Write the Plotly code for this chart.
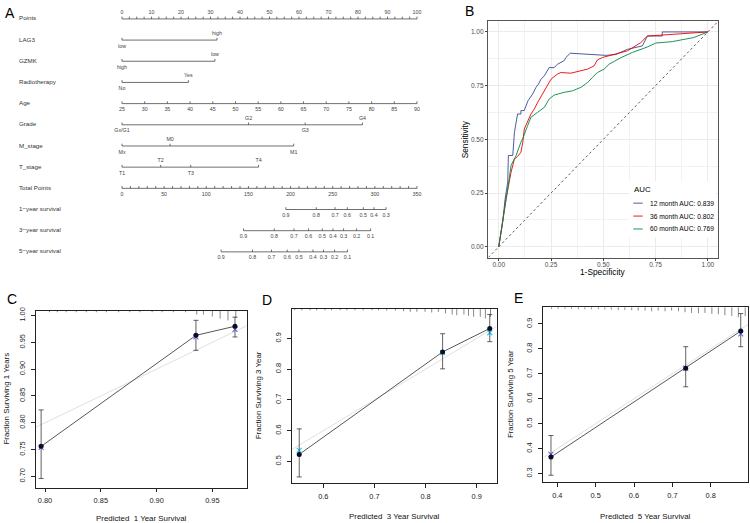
import plotly.graph_objects as go

W, H = 750, 523
FONT = "Liberation Sans, Arial, Helvetica, sans-serif"

# ================= DATA =================
# ---- Panel A : nomogram ----
row_names = ["Points", "LAG3", "GZMK", "Radiotherapy", "Age", "Grade", "M_stage",
             "T_stage", "Total Points", "1\u2212year survival", "3\u2212year survival",
             "5\u2212year survival"]
points_ticks = [0, 10, 20, 30, 40, 50, 60, 70, 80, 90, 100]
lag3_levels = ["low", "high"]
lag3_points = [0, 32.2]
gzmk_levels = ["high", "low"]
gzmk_points = [0, 31.5]
radio_levels = ["No", "Yes"]
radio_points = [0, 22.5]
age_ticks = [25, 30, 35, 40, 45, 50, 55, 60, 65, 70, 75, 80, 85, 90]
grade_levels = ["Gx/G1", "G2", "G3", "G4"]
grade_points = [0, 42.9, 62.1, 81.5]
m_levels = ["Mx", "M0", "M1"]
m_points = [0, 16.3, 58.2]
t_levels = ["T1", "T2", "T3", "T4"]
t_points = [0, 13.1, 23.3, 46.3]
total_ticks = [0, 50, 100, 150, 200, 250, 300, 350]
total_max = 350
surv1_probs = [0.9, 0.8, 0.7, 0.6, 0.5, 0.4, 0.3]
surv1_total = [194.4, 230.5, 252.8, 267.3, 286.3, 299.0, 313.3]
surv3_probs = [0.9, 0.8, 0.7, 0.6, 0.5, 0.4, 0.3, 0.2, 0.1]
surv3_total = [144.1, 180.6, 204.0, 221.3, 237.6, 250.3, 262.9, 278.3, 295.0]
surv5_probs = [0.9, 0.8, 0.7, 0.6, 0.5, 0.4, 0.3, 0.2, 0.1]
surv5_total = [117.6, 154.8, 177.4, 196.0, 209.9, 226.5, 239.1, 252.2, 267.6]

# ---- Panel B : time-dependent ROC ----
roc_months = [12, 36, 60]
roc_auc = [0.839, 0.802, 0.769]
fpr_12 = [0, 0.008, 0.019, 0.030, 0.043, 0.046, 0.067, 0.075, 0.090, 0.106, 0.106, 0.122,
          0.140, 0.162, 0.178, 0.190, 0.202, 0.218, 0.241, 0.265, 0.281, 0.313, 0.321,
          0.342, 0.512, 0.560, 0.615, 0.687, 0.711, 0.782, 0.782, 0.900, 1.0]
sens_12 = [0, 0.05, 0.116, 0.22, 0.301, 0.425, 0.425, 0.533, 0.618, 0.618, 0.634, 0.634,
           0.680, 0.711, 0.742, 0.757, 0.780, 0.796, 0.834, 0.834, 0.850, 0.866, 0.881,
           0.901, 0.891, 0.895, 0.919, 0.935, 0.981, 0.981, 1.0, 1.0, 1.0]
fpr_36 = [0, 0.011, 0.025, 0.035, 0.059, 0.075, 0.090, 0.106, 0.115, 0.122, 0.154, 0.170,
          0.186, 0.210, 0.226, 0.250, 0.281, 0.297, 0.345, 0.377, 0.425, 0.456, 0.472,
          0.496, 0.536, 0.615, 0.679, 0.711, 0.774, 0.902, 1.0]
sens_36 = [0, 0.07, 0.14, 0.224, 0.348, 0.409, 0.420, 0.440, 0.487, 0.548, 0.618, 0.641,
           0.672, 0.711, 0.742, 0.780, 0.804, 0.811, 0.808, 0.815, 0.827, 0.842, 0.870,
           0.881, 0.891, 0.912, 0.950, 0.981, 0.985, 0.993, 1.0]
fpr_60 = [0, 0.010, 0.025, 0.040, 0.059, 0.083, 0.106, 0.114, 0.138, 0.154, 0.186, 0.218,
          0.241, 0.265, 0.313, 0.353, 0.393, 0.425, 0.448, 0.472, 0.504, 0.528, 0.584,
          0.640, 0.711, 0.750, 0.830, 0.933, 1.0]
sens_60 = [0, 0.06, 0.15, 0.25, 0.379, 0.425, 0.487, 0.502, 0.564, 0.603, 0.626, 0.649,
           0.688, 0.706, 0.719, 0.726, 0.742, 0.765, 0.788, 0.811, 0.827, 0.850, 0.880,
           0.905, 0.930, 0.948, 0.955, 0.974, 1.0]
roc_ticks = [0, 0.25, 0.5, 0.75, 1.0]

# ---- Panels C, D, E : calibration ----
c_pred = [0.7965, 0.9353, 0.9703]
c_obs = [0.756, 0.963, 0.980]
c_lo = [0.696, 0.935, 0.960]
c_hi = [0.824, 0.991, 0.997]
c_corr = [0.754, 0.960, 0.974]
c_rug_x = [0.804, 0.811, 0.819, 0.828, 0.837, 0.846, 0.855, 0.866, 0.876, 0.885, 0.896,
           0.905, 0.915, 0.926, 0.936, 0.942, 0.950, 0.957, 0.964, 0.971]
c_rug_f = [0.17] * 14 + [0.4, 0.4, 0.6, 0.8, 1.0, 0.75]
c_xticks = [0.80, 0.85, 0.90, 0.95]
c_yticks = [0.70, 0.75, 0.80, 0.85, 0.90, 0.95, 1.00]

d_pred = [0.5529, 0.8333, 0.9255]
d_obs = [0.5226, 0.8558, 0.9323]
d_lo = [0.4493, 0.8008, 0.8892]
d_hi = [0.6057, 0.9151, 0.9776]
d_corr = [0.5356, 0.8536, 0.9183]
d_rug_x = [0.544, 0.558, 0.574, 0.587, 0.603, 0.616, 0.633, 0.646, 0.662, 0.678, 0.695,
           0.708, 0.724, 0.741, 0.757, 0.770, 0.783, 0.799, 0.812, 0.825, 0.839, 0.852,
           0.861, 0.875, 0.884, 0.894, 0.907, 0.917, 0.927]
d_rug_f = [0.17] * 12 + [0.2, 0.2, 0.27, 0.33, 0.33, 0.33, 0.4, 0.33, 0.5, 0.6, 0.67,
                         0.6, 0.73, 0.83, 0.83, 1.0, 0.83]
d_xticks = [0.6, 0.7, 0.8, 0.9]
d_yticks = [0.5, 0.6, 0.7, 0.8, 0.9]

e_pred = [0.3835, 0.7348, 0.8783]
e_obs = [0.3663, 0.7221, 0.8708]
e_lo = [0.2933, 0.6478, 0.8084]
e_hi = [0.4526, 0.8084, 0.9412]
e_corr = [0.3770, 0.7221, 0.8602]
e_rug_x = [0.385, 0.402, 0.420, 0.437, 0.455, 0.472, 0.489, 0.507, 0.524, 0.541, 0.559,
           0.576, 0.594, 0.611, 0.629, 0.646, 0.663, 0.681, 0.698, 0.716, 0.733, 0.750,
           0.768, 0.785, 0.803, 0.820, 0.837, 0.855, 0.872, 0.890]
e_rug_f = [0.17, 0.17, 0.17, 0.17, 0.2, 0.2, 0.2, 0.2, 0.23, 0.23, 0.27, 0.27, 0.3, 0.33,
           0.33, 0.4, 0.33, 0.4, 0.33, 0.4, 0.5, 0.57, 0.6, 0.57, 0.67, 0.7, 0.8, 0.87,
           1.0, 0.9]
e_xticks = [0.4, 0.5, 0.6, 0.7, 0.8]
e_yticks = [0.3, 0.4, 0.5, 0.6, 0.7, 0.8, 0.9]

# ================= FIGURE =================
fig = go.Figure()


def fx(p):
    return p / W


def fy(p):
    return 1 - p / H


# ---------- Panel A ----------
A_X0, A_X100 = 122.0, 417.0
A_PPP = (A_X100 - A_X0) / 100.0
A_ROW0, A_STEP = 16.0, 21.3
A_RIGHT, A_BOT = 420.0, 270.0
TK = 2.3 / A_STEP
OFF = 6.3 / A_STEP

segx, segy = [], []
lx, ly, lt = [], [], []


def seg(x0, y0, x1, y1):
    segx.extend([x0, x1, None])
    segy.extend([y0, y1, None])


def lab(x, y, t):
    lx.append(x)
    ly.append(y)
    lt.append(t)


def fmt(v):
    return ("%g" % v)


# Points axis (row 0)
seg(0, 0, 100, 0)
k = 0
while k <= 40:
    seg(k * 2.5, 0, k * 2.5, -TK)
    k += 1
for v in points_ticks:
    lab(v, -OFF, fmt(v))

# categorical rows
for r, pts, levs in [(1, lag3_points, lag3_levels), (2, gzmk_points, gzmk_levels),
                     (3, radio_points, radio_levels), (5, grade_points, grade_levels),
                     (6, m_points, m_levels), (7, t_points, t_levels)]:
    seg(min(pts), r, max(pts), r)
    for i, (p, l) in enumerate(zip(pts, levs)):
        seg(p, r, p, r - TK)
        lab(p, r + (OFF if i % 2 == 0 else -OFF), l)

# Age (row 4)
age_pts = [(a - age_ticks[0]) / (age_ticks[-1] - age_ticks[0]) * 100 for a in age_ticks]
seg(min(age_pts), 4, max(age_pts), 4)
for a, p in zip(age_ticks, age_pts):
    seg(p, 4, p, 4 - TK)
    lab(p, 4 + OFF, fmt(a))

# Total points (row 8)
tscale = 100.0 / total_max
seg(0, 8, total_max * tscale, 8)
for v in range(0, total_max + 1, 10):
    seg(v * tscale, 8, v * tscale, 8 - TK)
for v in total_ticks:
    lab(v * tscale, 8 + OFF, fmt(v))

# survival rows
for r, probs, tots in [(9, surv1_probs, surv1_total), (10, surv3_probs, surv3_total),
                       (11, surv5_probs, surv5_total)]:
    xs = [t * tscale for t in tots]
    seg(min(xs), r, max(xs), r)
    for p, x in zip(probs, xs):
        seg(x, r, x, r - TK)
        lab(x, r + OFF, fmt(p))

fig.add_trace(go.Scatter(x=segx, y=segy, mode="lines", xaxis="x", yaxis="y",
                         line=dict(color="#4a4a4a", width=0.8), hoverinfo="skip"))
fig.add_trace(go.Scatter(x=lx, y=ly, text=lt, mode="text", xaxis="x", yaxis="y",
                         textfont=dict(size=5.3, color="#444444", family=FONT),
                         cliponaxis=False, hoverinfo="skip"))
row_label_x = (19 - A_X0) / A_PPP
fig.add_trace(go.Scatter(x=[row_label_x] * len(row_names), y=list(range(len(row_names))),
                         text=row_names, mode="text", textposition="middle right",
                         xaxis="x", yaxis="y",
                         textfont=dict(size=6.2, color="#333333", family=FONT),
                         cliponaxis=False, hoverinfo="skip"))

# ---------- Panel B ----------
fig.add_trace(go.Scatter(x=[-0.05, 1.05], y=[-0.05, 1.05], mode="lines", xaxis="x2",
                         yaxis="y2", line=dict(color="#333333", width=0.8, dash="2.5px,2.5px"),
                         hoverinfo="skip"))
roc_colors = ["#3B4992", "#EE0000", "#008B45"]
for fpr, sens, col in [(fpr_12, sens_12, roc_colors[0]), (fpr_36, sens_36, roc_colors[1]),
                       (fpr_60, sens_60, roc_colors[2])]:
    fig.add_trace(go.Scatter(x=fpr, y=sens, mode="lines", xaxis="x2", yaxis="y2",
                             line=dict(color=col, width=0.9), hoverinfo="skip"))

# ---------- Panels C, D, E ----------
cal_panels = [
    dict(ax="3", pred=c_pred, obs=c_obs, lo=c_lo, hi=c_hi, corr=c_corr, rx=c_rug_x, rf=c_rug_f,
         xt=c_xticks, yt=c_yticks, xf="%.2f", yf="%.2f",
         box=(36.0, 309.3, 246.7, 487.3), xr=(0.7919, 0.9808), yr=(0.6793, 1.0093),
         xtitle="Predicted \u00a01 Year Survival", ytitle="Fraction Surviving 1 Years",
         ytx=6.5, xty=518.0, letter="C", lpos=(12, 298)),
    dict(ax="4", pred=d_pred, obs=d_obs, lo=d_lo, hi=d_hi, corr=d_corr, rx=d_rug_x, rf=d_rug_f,
         xt=d_xticks, yt=d_yticks, xf="%.1f", yf="%.1f",
         box=(292.3, 307.3, 496.7, 482.7), xr=(0.5393, 0.9391), yr=(0.4298, 0.997),
         xtitle="Predicted \u00a03 Year Survival", ytitle="Fraction Surviving 3 Year",
         ytx=258.5, xty=516.8, letter="D", lpos=(267, 298.5)),
    dict(ax="5", pred=e_pred, obs=e_obs, lo=e_lo, hi=e_hi, corr=e_corr, rx=e_rug_x, rf=e_rug_f,
         xt=e_xticks, yt=e_yticks, xf="%.1f", yf="%.1f",
         box=(543.3, 306.0, 748.3, 481.7), xr=(0.3635, 0.898), yr=(0.2665, 0.9665),
         xtitle="Predicted \u00a05 Year Survival", ytitle="Fraction Surviving 5 Year",
         ytx=510.5, xty=516.5, letter="E", lpos=(518, 297)),
]

annotations = []
layout_axes = {}
RUG_MAX_PX = 10.0

for pnl in cal_panels:
    xa, ya = "x" + pnl["ax"], "y" + pnl["ax"]
    x0, y0, x1, y1 = pnl["box"]
    xr, yr = pnl["xr"], pnl["yr"]
    # ideal line
    fig.add_trace(go.Scatter(x=[xr[0], xr[1]], y=[xr[0], xr[1]], mode="lines", xaxis=xa,
                             yaxis=ya, line=dict(color="#DCDCDC", width=0.9), hoverinfo="skip"))
    # rug of predicted values at top
    ypp = (yr[1] - yr[0]) / (y1 - y0)
    rxs, rys = [], []
    for xv, fv in zip(pnl["rx"], pnl["rf"]):
        rxs.extend([xv, xv, None])
        rys.extend([yr[1], yr[1] - fv * RUG_MAX_PX * ypp, None])
    fig.add_trace(go.Scatter(x=rxs, y=rys, mode="lines", xaxis=xa, yaxis=ya,
                             line=dict(color="#555555", width=0.7), hoverinfo="skip"))
    # apparent calibration line
    fig.add_trace(go.Scatter(x=pnl["pred"], y=pnl["obs"], mode="lines", xaxis=xa, yaxis=ya,
                             line=dict(color="#444444", width=0.9), hoverinfo="skip"))
    # bias-corrected (blue x)
    fig.add_trace(go.Scatter(x=pnl["pred"], y=pnl["corr"], mode="markers", xaxis=xa, yaxis=ya,
                             marker=dict(symbol="x-thin-open", size=5,
                                         line=dict(color="#5a5ab0", width=1.1)),
                             hoverinfo="skip"))
    # observed points with error bars
    fig.add_trace(go.Scatter(
        x=pnl["pred"], y=pnl["obs"], mode="markers", xaxis=xa, yaxis=ya,
        marker=dict(symbol="circle", size=5, color="#0b0b25"),
        error_y=dict(type="data", symmetric=False,
                     array=[h - o for h, o in zip(pnl["hi"], pnl["obs"])],
                     arrayminus=[o - l for o, l in zip(pnl["obs"], pnl["lo"])],
                     color="#3a3a3a", thickness=0.8, width=2.5),
        hoverinfo="skip"))
    axis_common = dict(showline=True, mirror=True, linecolor="#222222", linewidth=0.8,
                       ticks="outside", ticklen=4, tickwidth=0.7, tickcolor="#222222",
                       tickfont=dict(size=7.4, color="#222222", family=FONT),
                       showgrid=False, zeroline=False, fixedrange=True)
    layout_axes["xaxis" + pnl["ax"]] = dict(
        axis_common, domain=[fx(x0), fx(x1)], range=list(xr), anchor=ya,
        tickvals=pnl["xt"], ticktext=[pnl["xf"] % v for v in pnl["xt"]], ticklabelstandoff=2)
    layout_axes["yaxis" + pnl["ax"]] = dict(
        axis_common, domain=[fy(y1), fy(y0)], range=list(yr), anchor=xa,
        tickvals=pnl["yt"], ticktext=[pnl["yf"] % v for v in pnl["yt"]], tickangle=-90,
        ticklabelstandoff=3)
    annotations.append(dict(x=fx((x0 + x1) / 2), y=fy(pnl["xty"]), xref="paper", yref="paper",
                            text=pnl["xtitle"], showarrow=False, xanchor="center",
                            yanchor="middle", font=dict(size=7.9, color="#111111")))
    annotations.append(dict(x=fx(pnl["ytx"]), y=fy((y0 + y1) / 2), xref="paper", yref="paper",
                            text=pnl["ytitle"], showarrow=False, xanchor="center",
                            yanchor="middle", textangle=-90,
                            font=dict(size=7.9, color="#111111")))
    annotations.append(dict(x=fx(pnl["lpos"][0]), y=fy(pnl["lpos"][1]), xref="paper",
                            yref="paper", text=pnl["letter"], showarrow=False,
                            xanchor="center", yanchor="middle",
                            font=dict(size=14, color="#000000")))

# panel letters A, B
annotations.append(dict(x=fx(10), y=fy(10), xref="paper", yref="paper", text="A",
                        showarrow=False, xanchor="center", yanchor="middle",
                        font=dict(size=14, color="#000000")))
annotations.append(dict(x=fx(469.5), y=fy(8.5), xref="paper", yref="paper", text="B",
                        showarrow=False, xanchor="center", yanchor="middle",
                        font=dict(size=14, color="#000000")))

# ROC axis titles
B_X0, B_Y0, B_X1, B_Y1 = 488.3, 18.3, 718.3, 256.0
annotations.append(dict(x=fx((B_X0 + B_X1) / 2), y=fy(271.0), xref="paper", yref="paper",
                        text="1-Specificity", showarrow=False, xanchor="center",
                        yanchor="middle", font=dict(size=8.3, color="#000000")))
annotations.append(dict(x=fx(465), y=fy((B_Y0 + B_Y1) / 2), xref="paper", yref="paper",
                        text="Sensitivity", showarrow=False, xanchor="center",
                        yanchor="middle", textangle=-90, font=dict(size=8.3, color="#000000")))

# ROC legend (manual, ggplot style)
shapes = [dict(type="rect", xref="paper", yref="paper", x0=fx(629), x1=fx(716),
               y0=fy(236), y1=fy(179), fillcolor="white", line=dict(width=0), layer="above")]
annotations.append(dict(x=fx(631.5), y=fy(187.5), xref="paper", yref="paper", text="AUC",
                        showarrow=False, xanchor="left", yanchor="middle",
                        font=dict(size=7.9, color="#000000")))
for i, (m, a, col) in enumerate(zip(roc_months, roc_auc, roc_colors)):
    yy = 201.3 + 13.0 * i
    shapes.append(dict(type="line", xref="paper", yref="paper", x0=fx(633.3), x1=fx(642.7),
                       y0=fy(yy), y1=fy(yy), line=dict(color=col, width=0.9), layer="above"))
    annotations.append(dict(x=fx(647.8), y=fy(yy), xref="paper", yref="paper",
                            text="%d month AUC: %.3f" % (m, a), showarrow=False,
                            xanchor="left", yanchor="middle",
                            font=dict(size=6.7, color="#000000")))

roc_axis = dict(range=[-0.05, 1.05], tickvals=roc_ticks, ticktext=["%.2f" % v for v in roc_ticks],
                showgrid=True, gridcolor="#EBEBEB", gridwidth=0.6,
                minor=dict(tickvals=[0.125, 0.375, 0.625, 0.875], showgrid=True,
                           gridcolor="#F2F2F2", gridwidth=0.4, ticks=""),
                showline=True, mirror=True, linecolor="#555555", linewidth=0.8,
                ticks="outside", ticklen=2.5, tickwidth=0.6, tickcolor="#444444",
                tickfont=dict(size=6.5, color="#4D4D4D", family=FONT), zeroline=False,
                fixedrange=True)

fig.update_layout(
    width=W, height=H, margin=dict(l=0, r=0, t=0, b=0),
    paper_bgcolor="white", plot_bgcolor="white", showlegend=False,
    font=dict(family=FONT, color="#000000"),
    xaxis=dict(domain=[0, fx(A_RIGHT)], range=[-A_X0 / A_PPP, (A_RIGHT - A_X0) / A_PPP],
               visible=False, fixedrange=True),
    yaxis=dict(domain=[fy(A_BOT), 1], range=[(A_BOT - A_ROW0) / A_STEP, -A_ROW0 / A_STEP],
               visible=False, fixedrange=True),
    xaxis2=dict(roc_axis, domain=[fx(B_X0), fx(B_X1)], anchor="y2", ticklabelstandoff=-2),
    yaxis2=dict(roc_axis, domain=[fy(B_Y1), fy(B_Y0)], anchor="x2"),
    annotations=annotations,
    shapes=shapes,
    **layout_axes,
)

fig.write_html("out.html", config={"displayModeBar": False},
               post_script="document.body.style.margin='0px';"
                           "document.body.style.overflow='hidden';")
